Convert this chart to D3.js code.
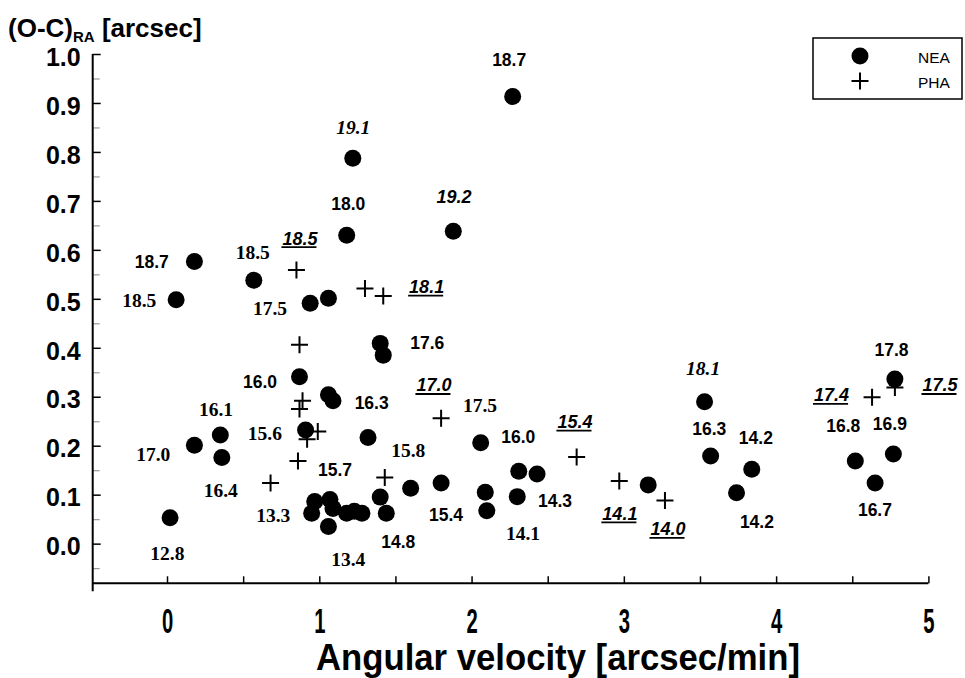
<!DOCTYPE html>
<html>
<head>
<meta charset="utf-8">
<script src="https://cdn.jsdelivr.net/npm/d3@7/dist/d3.min.js"></script>
<style>
	body { margin: 0; background: #fff; }
	svg { display: block; }
</style>
</head>
<body>
<svg id="chart" width="965" height="678"></svg>
<script>
// axis ticks
const xTicks = [0, 0.5, 1, 1.5, 2, 2.5, 3, 3.5, 4, 4.5, 5]
const yTicks = [0, 0.1, 0.2, 0.3, 0.4, 0.5, 0.6, 0.7, 0.8, 0.9, 1.0]
const yMinorTicks = [-0.05, 0.05, 0.15, 0.25, 0.35, 0.45, 0.55, 0.65, 0.75, 0.85, 0.95]

// NEA objects: [angular velocity, (O-C) RA]
const neaPoints = [
	[0.02, 0.053], [0.18, 0.201], [0.35, 0.222], [0.36, 0.176], [0.18, 0.576],
	[0.06, 0.498], [0.57, 0.538], [0.94, 0.491], [1.06, 0.501], [1.18, 0.63],
	[1.22, 0.787], [1.88, 0.638], [2.27, 0.913], [0.87, 0.341], [1.06, 0.304],
	[1.09, 0.292], [0.91, 0.232], [1.32, 0.217], [1.4, 0.409], [1.42, 0.385],
	[0.97, 0.086], [0.95, 0.062], [1.07, 0.09], [1.09, 0.072], [1.06, 0.035],
	[1.18, 0.062], [1.23, 0.066], [1.28, 0.062], [1.4, 0.095], [1.44, 0.062],
	[1.6, 0.113], [1.8, 0.124], [2.06, 0.206], [2.09, 0.105], [2.1, 0.067],
	[2.3, 0.096], [2.31, 0.148], [2.43, 0.142], [3.16, 0.12], [3.53, 0.29],
	[3.57, 0.179], [3.84, 0.152], [3.74, 0.104], [4.52, 0.169], [4.77, 0.183],
	[4.65, 0.124], [4.78, 0.336]
]

// PHA objects
const phaPoints = [
	[0.85, 0.559], [0.87, 0.406], [0.89, 0.292], [0.87, 0.275], [0.99, 0.229],
	[0.92, 0.213], [0.86, 0.169], [0.68, 0.124], [1.3, 0.521], [1.42, 0.506],
	[1.43, 0.135], [1.8, 0.256], [2.69, 0.177], [2.97, 0.128], [3.27, 0.088],
	[4.63, 0.299], [4.78, 0.319]
]

// magnitude labels, placed in data units: [velocity, O-C, text]
const magSans = [
	[2.247, 0.989, '18.7'], [1.19, 0.694, '18.0'], [-0.1, 0.576, '18.7'],
	[0.611, 0.331, '16.0'], [1.103, 0.15, '15.7'], [1.344, 0.287, '16.3'],
	[1.519, 0.004, '14.8'], [1.709, 0.41, '17.6'], [2.307, 0.218, '16.0'],
	[1.832, 0.06, '15.4'], [2.548, 0.087, '14.3'], [3.561, 0.235, '16.3'],
	[3.867, 0.217, '14.2'], [3.874, 0.044, '14.2'], [4.758, 0.397, '17.8'],
	[4.441, 0.24, '16.8'], [4.747, 0.244, '16.9'], [4.649, 0.069, '16.7']
]
const magSerif = [
	[-0.182, 0.498, '18.5'], [0.563, 0.596, '18.5'], [0.676, 0.481, '17.5'],
	[0.322, 0.276, '16.1'], [-0.09, 0.184, '17.0'], [0.353, 0.109, '16.4'],
	[0.643, 0.225, '15.6'], [0.698, 0.058, '13.3'], [0.002, -0.019, '12.8'],
	[1.19, -0.032, '13.4'], [1.584, 0.191, '15.8'], [2.055, 0.283, '17.5'],
	[2.338, 0.022, '14.1']
]
const magSerifItalic = [[1.223, 0.85, '19.1'], [3.521, 0.358, '18.1']]
const magSansItalic = [[1.884, 0.709, '19.2']]
const magUnderlined = [
	[0.873, 0.624, '18.5'], [1.705, 0.525, '18.1'], [1.753, 0.324, '17.0'],
	[2.679, 0.249, '15.4'], [2.974, 0.062, '14.1'], [3.29, 0.03, '14.0'],
	[4.364, 0.304, '17.4'], [5.076, 0.324, '17.5']
]

const legendItems = ['NEA', 'PHA']

const sans = '"Liberation Sans", Arial, sans-serif'
const serif = '"Liberation Serif", "Times New Roman", serif'

const svg = d3.select('#chart')

const x = d3.scaleLinear().domain([-0.488, 5]).range([92.7, 928.4])
const y = d3.scaleLinear().domain([-0.081, 1.0]).range([583.3, 54])

// y axis, ticks pointing into the plot
const yAxis = svg
	.append('g')
	.attr('transform', `translate(${x.range()[0]},0)`)
	.call(
		d3
			.axisLeft(y)
			.tickValues(yTicks)
			.tickSizeInner(-8)
			.tickSizeOuter(0)
			.tickPadding(12)
			.tickFormat(d3.format('.1f'))
	)
yAxis.select('.domain').remove()
yAxis.selectAll('line').attr('stroke', '#000').attr('stroke-width', 1.5)
yAxis
	.selectAll('text')
	.attr('dy', '0.45em')
	.attr('font-family', sans)
	.attr('font-size', 25)
	.attr('font-weight', 'bold')
	.attr('fill', '#000')

const yMinor = svg
	.append('g')
	.attr('transform', `translate(${x.range()[0]},0)`)
	.call(
		d3
			.axisLeft(y)
			.tickValues(yMinorTicks)
			.tickSizeInner(-7)
			.tickSizeOuter(0)
			.tickFormat('')
	)
yMinor.select('.domain').remove()
yMinor.selectAll('line').attr('stroke', '#999').attr('stroke-width', 1.2)

// x axis
const xAxis = svg
	.append('g')
	.attr('transform', `translate(0,${y.range()[0]})`)
	.call(
		d3
			.axisBottom(x)
			.tickValues(xTicks)
			.tickSizeInner(-7)
			.tickSizeOuter(0)
			.tickFormat(d => (Number.isInteger(d) ? d : ''))
	)
xAxis.select('.domain').remove()
xAxis.selectAll('line').attr('stroke', '#000').attr('stroke-width', 1.5)
xAxis
	.selectAll('text')
	.attr('y', 0)
	.attr('dy', '0.72em')
	.attr('transform', 'translate(0,24) scale(0.92,1.6)')
	.attr('font-family', sans)
	.attr('font-size', 22)
	.attr('font-weight', 'bold')
	.attr('fill', '#000')

// axis lines
svg.append('line')
	.attr('x1', x.range()[0])
	.attr('x2', x.range()[0])
	.attr('y1', y(1.0))
	.attr('y2', y.range()[0] + 8)
	.attr('stroke', '#000')
	.attr('stroke-width', 2)
svg.append('line')
	.attr('x1', x.range()[0])
	.attr('x2', x.range()[1])
	.attr('y1', y.range()[0])
	.attr('y2', y.range()[0])
	.attr('stroke', '#000')
	.attr('stroke-width', 2)

// axis titles
const yTitle = svg
	.append('text')
	.attr('x', 8)
	.attr('y', 37)
	.attr('font-family', sans)
	.attr('font-weight', 'bold')
	.attr('font-size', 26)
	.attr('fill', '#000')
yTitle.append('tspan').text('(O-C)')
yTitle.append('tspan').attr('font-size', 15).attr('dy', 5).text('RA')
yTitle.append('tspan').attr('dy', -5).text(' [arcsec]')

svg.append('text')
	.attr('x', 558)
	.attr('y', 670)
	.attr('text-anchor', 'middle')
	.attr('font-family', sans)
	.attr('font-weight', 'bold')
	.attr('font-size', 36)
	.attr('textLength', 484)
	.attr('lengthAdjust', 'spacingAndGlyphs')
	.attr('fill', '#000')
	.text('Angular velocity [arcsec/min]')

// markers
const plus = (cx, cy, s) => `M${cx - s},${cy}H${cx + s}M${cx},${cy - s}V${cy + s}`

svg.append('g')
	.selectAll('circle')
	.data(neaPoints)
	.enter()
	.append('circle')
	.attr('cx', d => x(d[0]))
	.attr('cy', d => y(d[1]))
	.attr('r', 8.5)
	.attr('fill', '#000')

svg.append('g')
	.selectAll('path')
	.data(phaPoints)
	.enter()
	.append('path')
	.attr('d', d => plus(x(d[0]), y(d[1]), 8.5))
	.attr('stroke', '#000')
	.attr('stroke-width', 2)
	.attr('fill', 'none')

// magnitude labels
function drawLabels(data, family, size, style) {
	return svg
		.append('g')
		.selectAll('text')
		.data(data)
		.enter()
		.append('text')
		.attr('x', d => x(d[0]))
		.attr('y', d => y(d[1]))
		.attr('dy', '0.36em')
		.attr('text-anchor', 'middle')
		.attr('font-family', family)
		.attr('font-size', size)
		.attr('font-weight', 'bold')
		.attr('font-style', style)
		.attr('fill', '#000')
		.text(d => d[2])
}

drawLabels(magSans, sans, 17.5, 'normal')
drawLabels(magSerif, serif, 19.5, 'normal')
drawLabels(magSerifItalic, serif, 19.5, 'italic')
drawLabels(magSansItalic, sans, 18, 'italic')
const underlined = drawLabels(magUnderlined, sans, 18, 'italic')

underlined.each(function(d) {
	const w = this.getComputedTextLength()
	svg.append('line')
		.attr('x1', x(d[0]) - w / 2 - 1)
		.attr('x2', x(d[0]) + w / 2 - 1)
		.attr('y1', y(d[1]) + 9)
		.attr('y2', y(d[1]) + 9)
		.attr('stroke', '#000')
		.attr('stroke-width', 1.8)
})

// legend
const legend = svg.append('g')
legend
	.append('rect')
	.attr('x', 813)
	.attr('y', 38)
	.attr('width', 149)
	.attr('height', 61)
	.attr('fill', '#fff')
	.attr('stroke', '#000')
	.attr('stroke-width', 1.5)
legend.append('circle').attr('cx', 860).attr('cy', 56).attr('r', 8.5).attr('fill', '#000')
legend
	.append('path')
	.attr('d', plus(860, 81, 8.5))
	.attr('stroke', '#000')
	.attr('stroke-width', 2)
legend
	.selectAll('text')
	.data(legendItems)
	.enter()
	.append('text')
	.attr('x', 918)
	.attr('y', (d, i) => 63 + i * 25)
	.attr('font-family', sans)
	.attr('font-size', 15.5)
	.attr('fill', '#000')
	.text(d => d)
</script>
</body>
</html>
